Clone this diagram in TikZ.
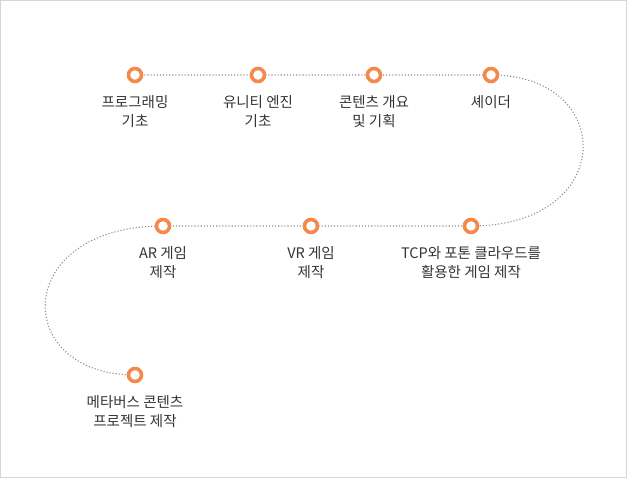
\documentclass[tikz,border=0pt]{standalone}
\usepackage{fontspec}
\newfontfamily\kr{Noto Sans CJK KR}
\definecolor{stepor}{HTML}{F5894B}
\definecolor{frameg}{HTML}{D6D6D6}
\begin{document}
\begin{tikzpicture}[x=1pt,y=-1pt,
  stop/.style={shape=circle,draw=stepor,fill=white,line width=3.6pt,minimum size=13pt,inner sep=0pt},
  lbl/.style={font=\kr\fontsize{14.5}{18.5}\selectfont,text=black!80,align=center,anchor=north},
  route/.style={draw=black!45,line width=1.1pt,dotted}]

	\draw[frameg,line width=1pt] (0.5,0.5) rectangle (626.5,477.5);
	\useasboundingbox (0,0) rectangle (627,478);

	\coordinate (p1) at (135,75);
	\coordinate (p2) at (258,75);
	\coordinate (p3) at (374,75);
	\coordinate (p4) at (491,75);
	\coordinate (p5) at (471,226);
	\coordinate (p6) at (311,226);
	\coordinate (p7) at (163,226);
	\coordinate (p8) at (135,375);

	\path[route] (p1) -- (p4) .. controls (617,75) and (617,226) .. (p5) -- (p7)
		.. controls (11,226) and (11,375) .. (p8);

	\foreach \p in {p1,p2,p3,p4,p5,p6,p7,p8}
		\node[stop] (n\p) at (\p) {};

	\node[lbl] (t1) at (135,92) {프로그래밍\\기초};
	\node[lbl] (t2) at (258,92) {유니티 엔진\\기초};
	\node[lbl] (t3) at (374,92) {콘텐츠 개요\\및 기획};
	\node[lbl] (t4) at (491,92) {셰이더};
	\node[lbl] (t5) at (471,243) {TCP와 포톤 클라우드를\\활용한 게임 제작};
	\node[lbl] (t6) at (311,243) {VR 게임\\제작};
	\node[lbl] (t7) at (163,243) {AR 게임\\제작};
	\node[lbl] (t8) at (135,392) {메타버스 콘텐츠\\프로젝트 제작};

\end{tikzpicture}
\end{document}
